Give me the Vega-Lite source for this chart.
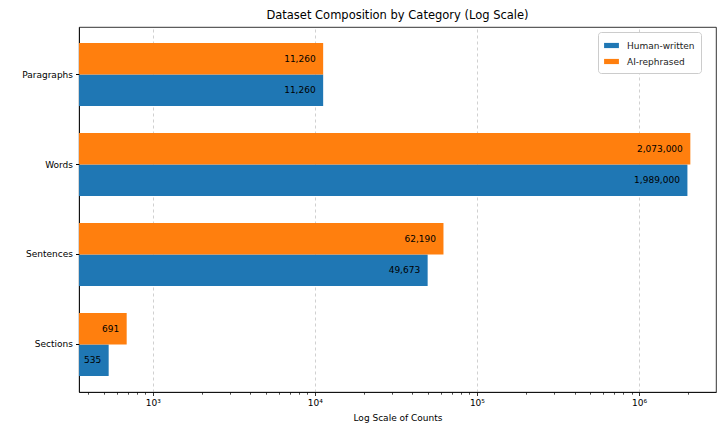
{
  "$schema": "https://vega.github.io/schema/vega-lite/v6.json",
  "autosize": "none",
  "width": 637,
  "height": 365,
  "padding": {"left": 79, "top": 27, "right": 9, "bottom": 34},
  "background": "white",
  "title": {"text": "Dataset Composition by Category (Log Scale)", "font": "DejaVu Sans", "fontSize": 11.5, "fontWeight": "normal", "color": "#000", "offset": 6},
  "config": {
    "font": "DejaVu Sans",
    "view": {"stroke": "#000", "strokeWidth": 0.8},
    "axis": {"labelFont": "DejaVu Sans", "titleFont": "DejaVu Sans", "labelColor": "#000", "titleColor": "#000", "domainColor": "#000", "tickColor": "#000"}
  },
  "data": {"values": [
    {"category": "Paragraphs", "series": "Human-written", "count": 11260, "label": "11,260"},
    {"category": "Paragraphs", "series": "AI-rephrased", "count": 11260, "label": "11,260"},
    {"category": "Words", "series": "Human-written", "count": 1989000, "label": "1,989,000"},
    {"category": "Words", "series": "AI-rephrased", "count": 2073000, "label": "2,073,000"},
    {"category": "Sentences", "series": "Human-written", "count": 49673, "label": "49,673"},
    {"category": "Sentences", "series": "AI-rephrased", "count": 62190, "label": "62,190"},
    {"category": "Sections", "series": "Human-written", "count": 535, "label": "535"},
    {"category": "Sections", "series": "AI-rephrased", "count": 691, "label": "691"}
  ]},
  "encoding": {
    "y": {"field": "category", "type": "nominal", "sort": ["Paragraphs", "Words", "Sentences", "Sections"],
      "scale": {"paddingInner": 0.3, "paddingOuter": 0.178},
      "axis": {"title": null, "labelFontSize": 9, "tickSize": 3.5, "labelPadding": 3, "domainWidth": 0.8}},
    "yOffset": {"field": "series", "type": "nominal", "sort": ["AI-rephrased", "Human-written"]},
    "x": {"field": "count", "type": "quantitative",
      "scale": {"type": "log", "domain": [351, 2985000], "nice": false},
      "axis": {"values": [400, 500, 600, 700, 800, 900, 1000, 2000, 3000, 4000, 5000, 6000, 7000, 8000, 9000, 10000, 20000, 30000, 40000, 50000, 60000, 70000, 80000, 90000, 100000, 200000, 300000, 400000, 500000, 600000, 700000, 800000, 900000, 1000000, 2000000],
        "labelExpr": "datum.value == 1000 ? '10³' : datum.value == 10000 ? '10⁴' : datum.value == 100000 ? '10⁵' : datum.value == 1000000 ? '10⁶' : ''",
        "title": "Log Scale of Counts", "titleFontSize": 9, "titleFontWeight": "normal", "titlePadding": 6,
        "labelFontSize": 9, "labelPadding": 3, "domainWidth": 0.8,
        "tickSize": {"condition": {"test": "indexof([1000, 10000, 100000, 1000000], datum.value) >= 0", "value": 3.5}, "value": 2.2},
        "tickWidth": {"condition": {"test": "indexof([1000, 10000, 100000, 1000000], datum.value) >= 0", "value": 0.8}, "value": 0.7},
        "grid": true, "gridDash": [3, 3], "gridColor": "#b0b0b0", "gridWidth": 0.6,
        "gridOpacity": {"condition": {"test": "indexof([1000, 10000, 100000, 1000000], datum.value) >= 0", "value": 1}, "value": 0}}}
  },
  "layer": [
    {
      "mark": {"type": "bar", "clip": true},
      "encoding": {
        "x2": {"datum": 351},
        "color": {"field": "series", "type": "nominal", "sort": ["Human-written", "AI-rephrased"],
          "scale": {"domain": ["Human-written", "AI-rephrased"], "range": ["#1f77b4", "#ff7f0e"]},
          "legend": {"title": null, "orient": "none", "legendX": 519, "legendY": 5, "labelFontSize": 9, "labelColor": "#222",
            "symbolType": "M-1,-0.35H1V0.35H-1Z", "symbolSize": 220, "symbolStrokeWidth": 0,
            "fillColor": "white", "strokeColor": "#ccc", "cornerRadius": 3, "padding": 6, "rowPadding": 3, "labelOffset": 8}}
      }
    },
    {
      "mark": {"type": "text", "align": "right", "baseline": "middle", "dx": -7.5, "fontSize": 9, "color": "#000"},
      "encoding": {
        "text": {"field": "label"}
      }
    }
  ]
}
